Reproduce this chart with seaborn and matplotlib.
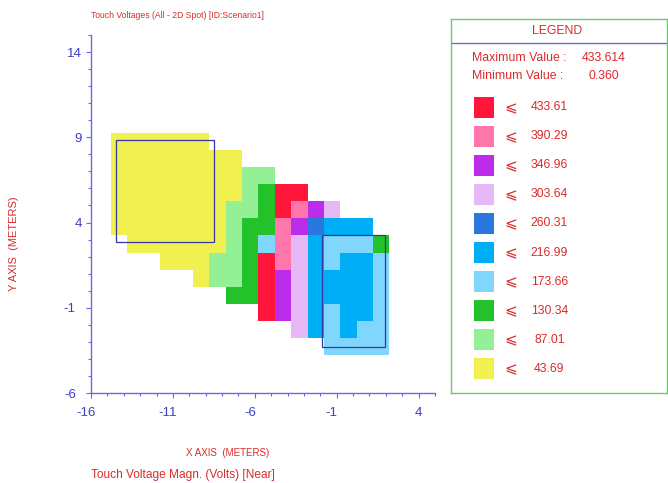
import numpy as np
import matplotlib
matplotlib.use("Agg")
import matplotlib.pyplot as plt
from matplotlib.colors import ListedColormap
from matplotlib.patches import Rectangle
from matplotlib.ticker import FixedLocator, MultipleLocator
from matplotlib.transforms import ScaledTranslation
import seaborn as sns

# Legend bands: upper bound of each band (volts), highest first
band_limits = [433.61, 390.29, 346.96, 303.64, 260.31, 216.99, 173.66, 130.34, 87.01, 43.69]
band_colors = ["#ff163a", "#ff77aa", "#bb2deb", "#e6b8f8", "#2a78de",
               "#00aef5", "#80d6fc", "#23c12a", "#94f094", "#f0f050"]
max_value = 433.614
min_value = 0.360

# Spot grid, 1 m cells. Rows run north (y=8) to south (y=-4), columns x=-15..1.
# Digit = band index from the lowest band (0 -> <=43.69 ... 9 -> <=433.61), '.' = no result
grid_rows = [
    "000000...........",
    "00000000.........",
    "0000000011.......",
    "000000001299.....",
    "00000001129876...",
    "0000000122875444.",
    ".0000001238643332",
    "...00011298643443",
    ".....011297644443",
    ".......2297644443",
    ".........97643443",
    "...........643433",
    ".............3333",
]
grid_x0 = -14.78
grid_y0 = -3.76
cell_size = 1.0

# Conductor plates (x, y, width, height) in metres
plates = [(-14.5, 2.87, 6.0, 6.0), (-1.9, -3.32, 3.83, 6.59)]

x_ticks = [-16, -11, -6, -1, 4]
y_ticks = [-6, -1, 4, 9, 14]
x_range = (-16, 5)
y_range = (-6, 15)

title_text = "Touch Voltages (All - 2D Spot) [ID:Scenario1]"
x_label = "X AXIS  (METERS)"
y_label = "Y AXIS  (METERS)"
footer_text = "Touch Voltage Magn. (Volts) [Near]"

sns.set_style("white")
plt.rcParams["font.family"] = ["Liberation Sans", "DejaVu Sans"]
plt.rcParams["axes.unicode_minus"] = False

RED = "#dc2a2a"
BLUE_TXT = "#3c3cc8"
BLUE_AX = "#6a6ae0"

W, H = 668, 483
fig = plt.figure(figsize=(W / 100, H / 100), dpi=100)
fig.patch.set_facecolor("white")

# main plot area (pixel-placed)
ax = fig.add_axes([91 / W, (H - 393) / H, 344 / W, 358 / H])
ax.set_xlim(*x_range)
ax.set_ylim(*y_range)
ax.set_facecolor("none")
for side in ("top", "right"):
    ax.spines[side].set_visible(False)
for side in ("left", "bottom"):
    ax.spines[side].set_color(BLUE_AX)
    ax.spines[side].set_linewidth(1.0)
ax.xaxis.set_major_locator(FixedLocator(x_ticks))
ax.yaxis.set_major_locator(FixedLocator(y_ticks))
ax.xaxis.set_minor_locator(MultipleLocator(1))
ax.yaxis.set_minor_locator(MultipleLocator(1))
ax.tick_params(which="both", direction="out", color=BLUE_AX, width=0.8,
               bottom=True, left=True)
ax.tick_params(which="major", length=3.4, labelsize=9.5, labelcolor=BLUE_TXT)
ax.tick_params(which="minor", length=2.3)
ax.tick_params(axis="x", which="major", pad=7)
ax.tick_params(axis="y", which="major", pad=3)

# cell grid as a seaborn heatmap placed over the grid extent in data coordinates
nrows, ncols = len(grid_rows), len(grid_rows[0])
matrix = np.full((nrows, ncols), np.nan)
for r, row in enumerate(grid_rows):
    for c, ch in enumerate(row):
        if ch != ".":
            matrix[r, c] = int(ch)

cmap = ListedColormap(band_colors[::-1])
grid_ax = ax.inset_axes([grid_x0, grid_y0, ncols * cell_size, nrows * cell_size],
                        transform=ax.transData, zorder=1)
sns.heatmap(matrix, mask=np.isnan(matrix), cmap=cmap, vmin=-0.5, vmax=9.5,
            cbar=False, ax=grid_ax, xticklabels=False, yticklabels=False,
            linewidths=0)
grid_ax.set_axis_off()
grid_ax.patch.set_alpha(0)

for (px, py, pw, ph) in plates:
    ax.add_patch(Rectangle((px, py), pw, ph, fill=False, edgecolor="#3535a5",
                           linewidth=0.9, zorder=4))

# texts placed in figure pixels
def fpos(x, y):
    return x / W, 1 - y / H

fig.text(*fpos(90.7, 15.5), title_text, color=RED, fontsize=6.2,
         ha="left", va="center")
fig.text(*fpos(227.5, 452.7), x_label, color=RED, fontsize=7,
         ha="center", va="center")
fig.text(*fpos(14, 244), y_label, color=RED, fontsize=8, rotation=90,
         ha="center", va="center")
fig.text(*fpos(90.7, 475), footer_text, color=RED, fontsize=8.6,
         ha="left", va="center")

# legend panel, drawn in pixel units
lg = fig.add_axes([451 / W, (H - 393) / H, 216 / W, 374 / H])
lg.set_xlim(451, 667)
lg.set_ylim(393, 19)
lg.set_xticks([])
lg.set_yticks([])
for s in lg.spines.values():
    s.set_color("#66cc66")
    s.set_linewidth(1.0)
lg.plot([451, 667], [43.3, 43.3], color=BLUE_AX, linewidth=1.0)
lg.text(557, 31.5, "LEGEND", color=RED, fontsize=8.8, ha="center", va="center")
lg.text(471.5, 57.7, "Maximum Value :", color=RED, fontsize=8.8, ha="left", va="center")
lg.text(604, 57.7, f"{max_value:.3f}", color=RED, fontsize=8.8, ha="center", va="center")
lg.text(471.5, 75.7, "Minimum Value :", color=RED, fontsize=8.8, ha="left", va="center")
lg.text(604, 75.7, f"{min_value:.3f}", color=RED, fontsize=8.8, ha="center", va="center")

for k, (lim, col) in enumerate(zip(band_limits, band_colors)):
    cy = 107.2 + k * 29.07
    lg.add_patch(Rectangle((474, cy - 10.5), 20.3, 21, facecolor=col,
                           edgecolor="none"))
    lg.text(511, cy, "\u2a7d", color=RED, fontsize=11, ha="center", va="center",
            family=["DejaVu Sans", "Noto Sans CJK SC"])
    lg.text(549.5, cy, f"{lim:.2f}", color=RED, fontsize=8.8, ha="center", va="center")

# negative tick labels sit with their digits on the tick, the sign hanging left
fig.canvas.draw()
for lab in ax.get_xticklabels():
    if lab.get_text().startswith("-"):
        lab.set_transform(lab.get_transform() +
                          ScaledTranslation(-3.5 / 72, 0, fig.dpi_scale_trans))
for lab in ax.get_yticklabels():
    if lab.get_text().startswith("-"):
        lab.set_transform(lab.get_transform() +
                          ScaledTranslation(-4.5 / 72, 0, fig.dpi_scale_trans))

fig.savefig("out.png", dpi=100)
